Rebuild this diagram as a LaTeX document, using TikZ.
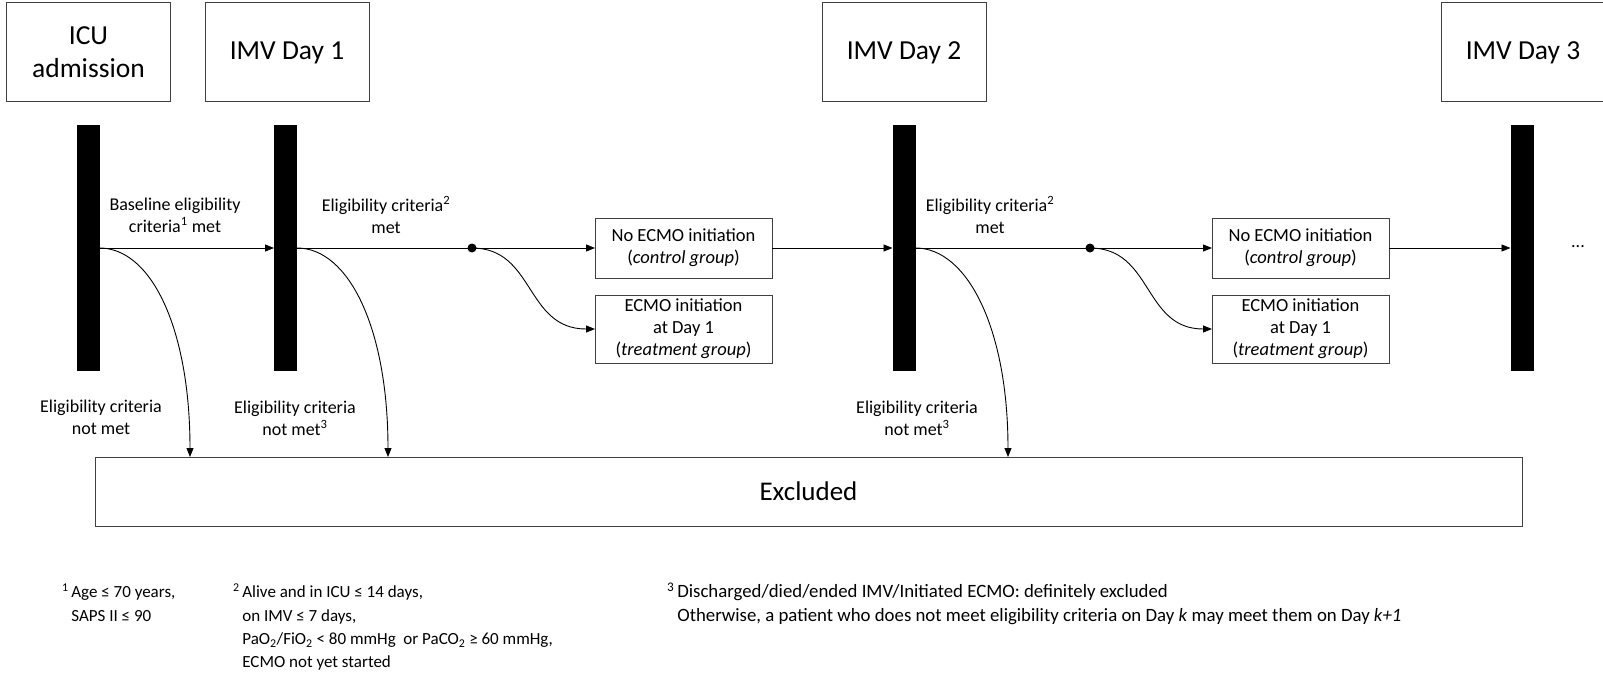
\documentclass[tikz,border=0pt]{standalone}
\usepackage{fontspec}
\setmainfont{Carlito}
\usetikzlibrary{arrows.meta}
\begin{document}
\begin{tikzpicture}[x=1pt,y=-1pt,
  every node/.style={inner sep=0pt, outer sep=0pt},
  daybox/.style={draw=black!75, line width=1pt, fill=white, font=\fontsize{27.5}{33}\selectfont, align=center, minimum height=99pt, minimum width=164pt},
  bar/.style={fill=black, minimum width=23pt, minimum height=245pt},
  grpbox/.style={draw=black!75, line width=1pt, font=\fontsize{18.5}{22}\selectfont, align=center, minimum width=177pt},
  lbl/.style={font=\fontsize{18}{22}\selectfont, align=center},
  foot/.style={font=\fontsize{17}{23.3}\selectfont, align=left, anchor=north west},
  arr/.style={line width=0.9pt, -{Triangle[length=9pt,width=7pt]}},
  ln/.style={line width=0.9pt},
  dotnode/.style={circle, fill=black, minimum size=9pt},
]
\useasboundingbox (0,0) rectangle (1603,674);
\clip (0,0) rectangle (1603,674);

% top boxes
\node[daybox] (icu) at (88.5,52.5) {ICU\\admission};
\node[daybox] (d1) at (287,52.5) {IMV Day 1};
\node[daybox] (d2) at (904,52.5) {IMV Day 2};
\node[daybox] (d3) at (1523,52.5) {IMV Day 3};

% bars
\node[bar] (b0) at (88,248) {};
\node[bar] (b1) at (285.5,248) {};
\node[bar] (b2) at (904,248) {};
\node[bar] (b3) at (1522,248) {};

% group boxes
\node[grpbox, minimum height=60pt] (nc1) at (683.5,248) {No ECMO initiation\\(\textit{control group})};
\node[grpbox, minimum height=68pt] (tr1) at (683.5,329) {ECMO initiation\\at Day 1\\(\textit{treatment group})};
\node[grpbox, minimum height=60pt] (nc2) at (1300.5,248) {No ECMO initiation\\(\textit{control group})};
\node[grpbox, minimum height=68pt] (tr2) at (1300.5,329) {ECMO initiation\\at Day 1\\(\textit{treatment group})};

% dots
\node[dotnode] (dot1) at (472,248) {};
\node[dotnode] (dot2) at (1090,248) {};

% excluded
\node[draw=black!75, line width=1pt, minimum width=1427pt, minimum height=69pt, font=\fontsize{27}{33}\selectfont] (exc) at (808.5,491.5) {Excluded};
\coordinate (x0) at (190,0);
\coordinate (x1) at (388,0);
\coordinate (x2) at (1008,0);

% main flow
\draw[arr] (b0.east) -- (b1.west);
\draw[ln] (b1.east) -- (dot1.center);
\draw[arr] (dot1.center) -- (nc1.west);
\draw[arr] (dot1.center) .. controls (535,248) and (525,329) .. (tr1.west);
\draw[arr] (nc1.east) -- (b2.west);
\draw[ln] (b2.east) -- (dot2.center);
\draw[arr] (dot2.center) -- (nc2.west);
\draw[arr] (dot2.center) .. controls (1153,248) and (1143,329) .. (tr2.west);
\draw[arr] (nc2.east) -- (b3.west);

% exclusion curves
\draw[arr] (b0.east) .. controls +(52,0) and +(0,-128) .. (exc.north -| x0);
\draw[arr] (b1.east) .. controls +(52,0) and +(0,-128) .. (exc.north -| x1);
\draw[arr] (b2.east) .. controls +(52,0) and +(0,-128) .. (exc.north -| x2);

% labels
\node[lbl] (l1) at (175,215) {Baseline eligibility\\criteria\textsuperscript{1} met};
\node[lbl] (l2) at (386,215) {Eligibility criteria\textsuperscript{2}\\met};
\node[lbl] (l3) at (990,215) {Eligibility criteria\textsuperscript{2}\\met};
\node[lbl] (l4) at (101,417) {Eligibility criteria\\not met};
\node[lbl] (l5) at (295,418) {Eligibility criteria\\not met\textsuperscript{3}};
\node[lbl] (l6) at (917,418) {Eligibility criteria\\not met\textsuperscript{3}};
\node[lbl] (dots) at (1578,247) {...};

% footnotes
\node[foot] (f1) at (62,584) {\textsuperscript{1}\,Age ≤ 70 years,\\\phantom{\textsuperscript{1}}\,SAPS II ≤ 90};
\node[foot] (f2) at (233,584) {\textsuperscript{2}\,Alive and in ICU ≤ 14 days,\\\phantom{\textsuperscript{2}}\,on IMV ≤ 7 days,\\\phantom{\textsuperscript{2}}\,PaO\textsubscript{2}/FiO\textsubscript{2} < 80 mmHg\ \ or\ PaCO\textsubscript{2} ≥ 60 mmHg,\\\phantom{\textsuperscript{2}}\,ECMO not yet started};
\node[foot, font=\fontsize{18.8}{23.5}\selectfont] (f3) at (667,583) {\textsuperscript{3}\,Discharged/died/ended IMV/Initiated ECMO: definitely excluded\\\phantom{\textsuperscript{3}}\,Otherwise, a patient who does not meet eligibility criteria on Day \textit{k} may meet them on Day \textit{k+1}};
\end{tikzpicture}
\end{document}
